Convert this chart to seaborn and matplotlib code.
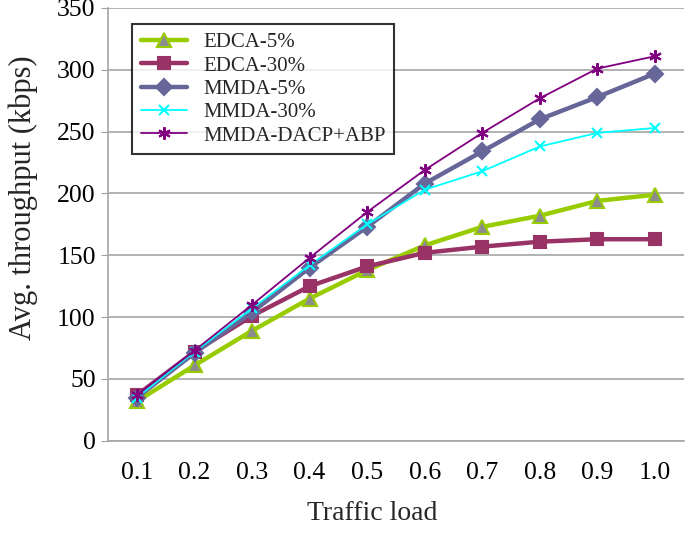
import matplotlib
matplotlib.use("Agg")

import matplotlib.pyplot as plt
import seaborn as sns
import pandas as pd

sns.set_style("white")
plt.rcParams['font.family'] = ['Liberation Serif', 'DejaVu Serif']

loads = [0.1, 0.2, 0.3, 0.4, 0.5, 0.6, 0.7, 0.8, 0.9, 1.0]
load_labels = ["0.1", "0.2", "0.3", "0.4", "0.5", "0.6", "0.7", "0.8", "0.9", "1.0"]

edca_5 = [32, 61, 89, 115, 138, 158, 173, 182, 194, 199]
edca_30 = [37, 72, 101, 125, 141, 152, 157, 161, 163, 163]
mmda_5 = [35, 71, 104, 140, 173, 208, 234, 260, 278, 297]
mmda_30 = [35, 72, 107, 142, 175, 203, 218, 238, 249, 253]
mmda_dacp = [37, 73, 110, 148, 185, 219, 249, 277, 301, 311]

series = [
    ("EDCA-5%", edca_5),
    ("EDCA-30%", edca_30),
    ("MMDA-5%", mmda_5),
    ("MMDA-30%", mmda_30),
    ("MMDA-DACP+ABP", mmda_dacp),
]

# line styles per series (Excel-like)
styles = {
    "EDCA-5%": dict(color="#99CC00", marker="^", lw=3.2, ms=10, mfc="#8C8C8C", mec="#99CC00"),
    "EDCA-30%": dict(color="#993366", marker="s", lw=3.2, ms=9, mfc="#993366", mec="#993366"),
    "MMDA-5%": dict(color="#666699", marker="D", lw=3.2, ms=8, mfc="#666699", mec="#666699"),
    "MMDA-30%": dict(color="#00FFFF", marker="x", lw=1.3, ms=7, mfc="#00FFFF", mec="#00FFFF"),
    "MMDA-DACP+ABP": dict(color="#800080", marker=(6, 2, 0), lw=1.3, ms=9, mfc="#800080", mec="#800080"),
}

rows = []
for name, vals in series:
    for x, y in zip(loads, vals):
        rows.append({"load": x, "throughput": y, "series": name})
df = pd.DataFrame(rows)

fig = plt.figure(figsize=(6.85, 5.33), dpi=100)
ax = fig.add_axes([0.158, 0.173, 0.840, 0.812])

for name, _ in series:
    st = styles[name]
    sns.lineplot(
        data=df[df["series"] == name],
        x="load",
        y="throughput",
        ax=ax,
        color=st["color"],
        marker=st["marker"],
        linewidth=st["lw"],
        markersize=st["ms"],
        markerfacecolor=st["mfc"],
        markeredgecolor=st["mec"],
        markeredgewidth=1.5,
        label=name,
    )

ax.set_xlim(0.05, 1.05)
ax.set_ylim(0, 350)
ax.set_xticks(loads)
ax.set_xticklabels(load_labels)
ax.set_yticks(range(0, 351, 50))
ax.tick_params(axis="both", labelsize=18.5, colors="black")
ax.tick_params(axis="y", length=5, color="#A0A0A0", direction="out", left=True, pad=4)
ax.tick_params(axis="x", length=0, pad=15)

ax.yaxis.grid(True, color="#A6A6A6", linewidth=1.2)
ax.set_axisbelow(True)
for side in ["top", "right"]:
    ax.spines[side].set_visible(False)
for side in ["left", "bottom"]:
    ax.spines[side].set_color("#A6A6A6")
    ax.spines[side].set_linewidth(1.2)

ax.set_xlabel("Traffic load", fontsize=20)
ax.set_ylabel("Avg. throughput (kbps)", fontsize=22)
ax.xaxis.set_label_coords(0.458, -0.14)
ax.yaxis.set_label_coords(-0.122, 0.562)

leg = ax.legend(
    loc="upper left",
    bbox_to_anchor=(0.042, 0.962),
    fontsize=15,
    frameon=True,
    fancybox=False,
    edgecolor="black",
    handlelength=2.2,
    handletextpad=0.8,
    labelspacing=0.18,
    borderpad=0.4,
    borderaxespad=0,
)
leg.get_frame().set_linewidth(1.5)

plt.savefig("out.png", dpi=100)
plt.close()
